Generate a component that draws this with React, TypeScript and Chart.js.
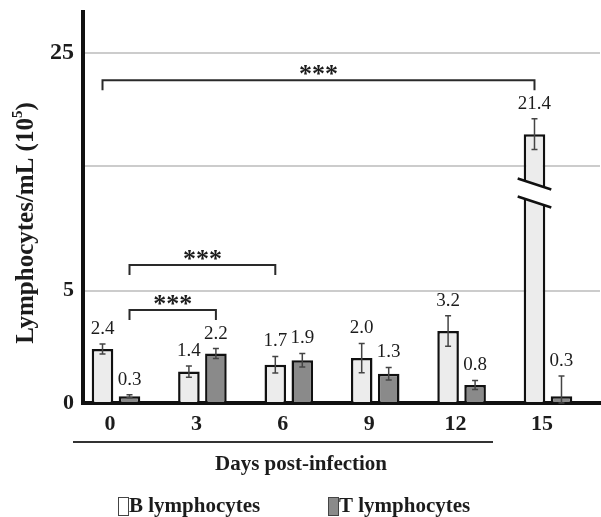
import React, { useEffect, useRef } from 'react';
import { Chart, registerables, LinearScale } from 'chart.js';

Chart.register(...registerables);

// ---------- data ----------
const days = [0, 3, 6, 9, 12, 15];
const seriesLabels = ['B lymphocytes', 'T lymphocytes'];
const bValues = [2.4, 1.4, 1.7, 2.0, 3.2, 21.4];
const tValues = [0.3, 2.2, 1.9, 1.3, 0.8, 0.3];
const bErrors = [0.22, 0.25, 0.37, 0.65, 0.68, 0.68];
const tErrors = [0.07, 0.22, 0.3, 0.28, 0.2, 0.9];
const yTickValues = [0, 5, 20, 25];
const yTickLabels = ['0', '5', '', '25'];
const xTitle = 'Days post-infection';
const yTitleMain = 'Lymphocytes/mL (10';
const yTitleSup = '5';
const yTitleEnd = ')';
// significance brackets: [dayIndex, seriesIndex] -> [dayIndex, seriesIndex], level in axis units
const comparisonsFrom = [[0, 0], [0, 1], [0, 1]];
const comparisonsTo = [[5, 0], [2, 0], [1, 1]];
const comparisonLevels = [23.8, 6.13, 4.13];
const comparisonLabels = ['***', '***', '***'];

// broken axis: values between BREAK_AT and BREAK_AT + BREAK_GAP are hidden
const BREAK_AT = 9.4;
const BREAK_GAP = 9.45;

const compress = (v: number) => (v <= BREAK_AT ? v : v < BREAK_AT + BREAK_GAP ? BREAK_AT : v - BREAK_GAP);
const expand = (c: number) => (c <= BREAK_AT ? c : c + BREAK_GAP);

class BrokenLinearScale extends (LinearScale as any) {
  static id = 'brokenLinear';
  static defaults = {};
  getPixelForValue(value: number) {
    return super.getPixelForValue(compress(value));
  }
  getValueForPixel(pixel: number) {
    return expand(super.getValueForPixel(pixel));
  }
}
Chart.register(BrokenLinearScale as any);

const SERIF = '"Liberation Serif", "Times New Roman", serif';
const TEXT = '#1c1c1c';
const B_FILL = '#ececec';
const T_FILL = '#8a8a8a';

const errorsBySeries = [bErrors, tErrors];

const annotate = {
  id: 'annotate',
  afterDatasetsDraw(chart: any) {
    const ctx = chart.ctx as CanvasRenderingContext2D;
    const y = chart.scales.y;

    // break marks on bars exceeding the break
    chart.data.datasets.forEach((ds: any, di: number) => {
      const meta = chart.getDatasetMeta(di);
      ds.data.forEach((pt: any, i: number) => {
        if (pt.y > BREAK_AT + BREAK_GAP) {
          const el = meta.data[i];
          const yc = y.getPixelForValue(BREAK_AT);
          const half = el.width / 2 + 6;
          ctx.save();
          ctx.fillStyle = '#ffffff';
          ctx.beginPath();
          ctx.moveTo(el.x - half, yc - 13);
          ctx.lineTo(el.x + half, yc - 2);
          ctx.lineTo(el.x + half, yc + 16);
          ctx.lineTo(el.x - half, yc + 5);
          ctx.closePath();
          ctx.fill();
          ctx.strokeStyle = '#111';
          ctx.lineWidth = 2.5;
          ctx.beginPath();
          ctx.moveTo(el.x - half, yc - 13);
          ctx.lineTo(el.x + half, yc - 2);
          ctx.moveTo(el.x - half, yc + 5);
          ctx.lineTo(el.x + half, yc + 16);
          ctx.stroke();
          ctx.restore();
        }
      });
    });

    // error bars and value labels
    chart.data.datasets.forEach((ds: any, di: number) => {
      const meta = chart.getDatasetMeta(di);
      const errs = errorsBySeries[di];
      ds.data.forEach((pt: any, i: number) => {
        const el = meta.data[i];
        const v = pt.y;
        const e = errs[i];
        const top = y.getPixelForValue(v + e);
        const bot = y.getPixelForValue(Math.max(0, v - e));
        ctx.save();
        ctx.strokeStyle = '#444';
        ctx.lineWidth = 1.5;
        ctx.beginPath();
        ctx.moveTo(el.x, top);
        ctx.lineTo(el.x, bot);
        ctx.moveTo(el.x - 3, top);
        ctx.lineTo(el.x + 3, top);
        ctx.moveTo(el.x - 3, bot);
        ctx.lineTo(el.x + 3, bot);
        ctx.stroke();
        ctx.fillStyle = TEXT;
        ctx.font = `19px ${SERIF}`;
        ctx.textAlign = 'center';
        ctx.textBaseline = 'middle';
        ctx.fillText(v.toFixed(1), el.x, top - 15);
        ctx.restore();
      });
    });

    // significance brackets
    comparisonLevels.forEach((level, k) => {
      const [ia, sa] = comparisonsFrom[k];
      const [ib, sb] = comparisonsTo[k];
      const xa = chart.getDatasetMeta(sa).data[ia].x;
      const xb = chart.getDatasetMeta(sb).data[ib].x;
      const yl = y.getPixelForValue(level);
      ctx.save();
      ctx.strokeStyle = '#2a2a2a';
      ctx.lineWidth = 2;
      ctx.beginPath();
      ctx.moveTo(xa, yl + 10);
      ctx.lineTo(xa, yl);
      ctx.lineTo(xb, yl);
      ctx.lineTo(xb, yl + 10);
      ctx.stroke();
      ctx.fillStyle = TEXT;
      ctx.font = `bold 26px ${SERIF}`;
      ctx.textAlign = 'center';
      ctx.textBaseline = 'alphabetic';
      ctx.fillText(comparisonLabels[k], (xa + xb) / 2, yl + 2);
      ctx.restore();
    });
  },
  afterDraw(chart: any) {
    const ctx = chart.ctx as CanvasRenderingContext2D;
    ctx.save();
    // decorative line under the tick labels
    ctx.strokeStyle = '#333';
    ctx.lineWidth = 2;
    ctx.beginPath();
    ctx.moveTo(73, 442);
    ctx.lineTo(493, 442);
    ctx.stroke();

    // x title
    ctx.fillStyle = TEXT;
    ctx.font = `bold 21px ${SERIF}`;
    ctx.textAlign = 'center';
    ctx.textBaseline = 'alphabetic';
    ctx.fillText(xTitle, 301, 470);

    // legend
    const legendX = [118, 328];
    const fills = [B_FILL, T_FILL];
    legendX.forEach((lx, i) => {
      ctx.fillStyle = i === 0 ? '#ffffff' : fills[i];
      ctx.fillRect(lx, 497, 10, 18);
      ctx.strokeStyle = '#444';
      ctx.lineWidth = 1;
      ctx.strokeRect(lx + 0.5, 497.5, 10, 18);
      ctx.fillStyle = TEXT;
      ctx.font = `bold 21px ${SERIF}`;
      ctx.textAlign = 'left';
      ctx.fillText(seriesLabels[i], lx + 11, 512);
    });

    // y title (rotated, with superscript)
    ctx.translate(33, 223);
    ctx.rotate(-Math.PI / 2);
    const mainFont = `bold 25px ${SERIF}`;
    const supFont = `bold 15px ${SERIF}`;
    ctx.font = mainFont;
    const w1 = ctx.measureText(yTitleMain).width;
    const w3 = ctx.measureText(yTitleEnd).width;
    ctx.font = supFont;
    const w2 = ctx.measureText(yTitleSup).width;
    const start = -(w1 + w2 + w3) / 2;
    ctx.textAlign = 'left';
    ctx.fillStyle = TEXT;
    ctx.font = mainFont;
    ctx.fillText(yTitleMain, start, 0);
    ctx.font = supFont;
    ctx.fillText(yTitleSup, start + w1, -11);
    ctx.font = mainFont;
    ctx.fillText(yTitleEnd, start + w1 + w2, 0);
    ctx.restore();
  },
};

export default function App() {
  const ref = useRef<HTMLCanvasElement | null>(null);
  useEffect(() => {
    if (!ref.current) return;
    const chart = new Chart(ref.current, {
      type: 'bar',
      data: {
        datasets: [
          {
            label: seriesLabels[0],
            data: days.map((d, i) => ({ x: d, y: bValues[i] })),
            backgroundColor: B_FILL,
            borderColor: '#111',
            borderWidth: 2.5,
            categoryPercentage: 0.625,
            barPercentage: 0.8,
          },
          {
            label: seriesLabels[1],
            data: days.map((d, i) => ({ x: d, y: tValues[i] })),
            backgroundColor: T_FILL,
            borderColor: '#111',
            borderWidth: 2.5,
            categoryPercentage: 0.625,
            barPercentage: 0.8,
          },
        ] as any,
      },
      options: {
        animation: false,
        responsive: true,
        maintainAspectRatio: false,
        layout: { padding: { top: 12, right: 1, left: 0, bottom: 0 } },
        plugins: { legend: { display: false }, tooltip: { enabled: false } },
        scales: {
          x: {
            type: 'linear',
            min: -1.146,
            max: 16.806,
            offset: false,
            afterBuildTicks: (s: any) => {
              s.ticks = days.map((d) => ({ value: d }));
            },
            afterFit: (s: any) => {
              s.height = 114;
              s.paddingLeft = 0;
              s.paddingRight = 0;
            },
            grid: { display: false, drawTicks: false, offset: false },
            border: { display: true, color: '#111', width: 4 },
            ticks: {
              autoSkip: false,
              maxRotation: 0,
              padding: 8,
              labelOffset: -6,
              color: TEXT,
              font: { family: SERIF, size: 22, weight: 'bold' },
              callback: (v: any) => String(v),
            },
          },
          y: {
            type: 'brokenLinear' as any,
            min: 0,
            max: 17.38,
            bounds: 'data',
            afterBuildTicks: (s: any) => {
              s.ticks = yTickValues.map((v) => ({ value: v }));
            },
            afterFit: (s: any) => {
              s.width = 83;
              s.paddingTop = 0;
              s.paddingBottom = 0;
            },
            grid: {
              drawTicks: false,
              lineWidth: 2,
              color: (c: any) => (c.tick && c.tick.value === 0 ? 'rgba(0,0,0,0)' : '#cccccc'),
            },
            border: { display: true, color: '#111', width: 4 },
            ticks: {
              padding: 9,
              color: TEXT,
              font: (c: any) => ({ family: SERIF, size: c.tick && c.tick.value === 25 ? 24 : 22, weight: 'bold' }),
              callback: (_v: any, i: number) => yTickLabels[i],
            },
          },
        } as any,
      },
      plugins: [annotate],
    });
    return () => chart.destroy();
  }, []);
  return (
    <div style={{ position: 'absolute', left: 0, top: 0, width: 601, height: 517, background: '#fff' }}>
      <canvas ref={ref} />
    </div>
  );
}
